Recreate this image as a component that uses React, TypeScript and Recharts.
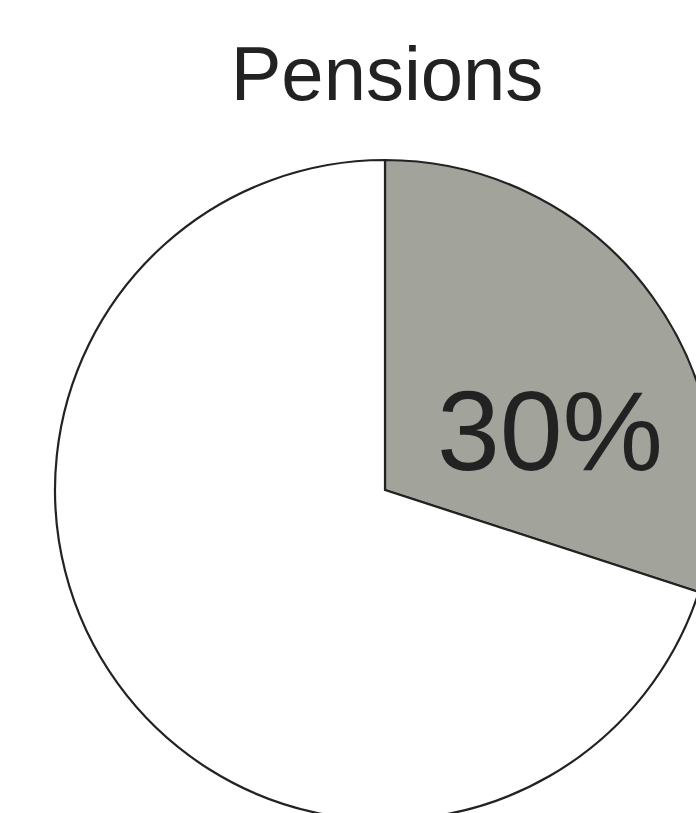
import React from "react";
import { PieChart, Pie, Cell } from "recharts";

const sliceNames = ["Pensions", "Other"];
const sliceValues = [30, 70];
const sliceLabels = ["30%", ""];
const title = "Pensions";

const data = sliceNames.map((name, i) => ({ name, value: sliceValues[i], label: sliceLabels[i] }));
const fills = ["#a2a39a", "#ffffff"];

const renderLabel = (props: any) => {
  const { cx, cy, outerRadius, index } = props;
  if (!data[index].label) return null;
  return (
    <text
      x={cx + outerRadius * 0.5}
      y={cy - 20}
      textAnchor="middle"
      fontFamily="'Liberation Sans', Arial, sans-serif"
      fontSize={113}
      fill="#222222"
    >
      {data[index].label}
    </text>
  );
};

export default function App() {
  return (
    <div
      style={{
        position: "fixed",
        left: 0,
        top: 0,
        width: 696,
        height: 813,
        overflow: "hidden",
        background: "#ffffff",
      }}
    >
      <PieChart
        width={760}
        height={860}
        margin={{ top: 0, right: 0, bottom: 0, left: 0 }}
        style={{ overflow: "visible" }}
      >
        <text
          x={387}
          y={100}
          textAnchor="middle"
          fontFamily="'Liberation Sans', Arial, sans-serif"
          fontSize={76}
          fill="#222222"
        >
          {title}
        </text>
        <Pie
          data={data}
          dataKey="value"
          nameKey="name"
          cx={385}
          cy={490}
          outerRadius={330}
          startAngle={90}
          endAngle={-270}
          stroke="#222222"
          strokeWidth={2.2}
          label={renderLabel}
          labelLine={false}
          isAnimationActive={false}
        >
          {data.map((d, i) => (
            <Cell key={d.name} fill={fills[i]} />
          ))}
        </Pie>
      </PieChart>
    </div>
  );
}
